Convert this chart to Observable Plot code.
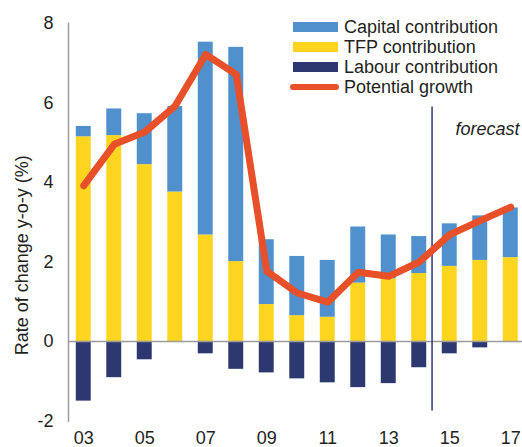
<!DOCTYPE html>
<html>
<head>
<meta charset="utf-8">
<script src="https://cdn.jsdelivr.net/npm/d3@7"></script>
<script src="https://cdn.jsdelivr.net/npm/@observablehq/plot@0.6"></script>
<style>
  html, body { margin: 0; padding: 0; background: #fff; }
  #wrap { position: relative; width: 522px; height: 447px; font-family: "Liberation Sans", Arial, sans-serif; }
  #legend { position: absolute; left: 290px; top: 17px; font-size: 18px; color: #231f20; line-height: 20px; }
  #legend .row { display: flex; align-items: center; height: 20px; }
  #legend .sw { width: 45px; height: 10px; margin-left: 3px; margin-right: 6px; }
  #legend .ln { width: 49px; height: 6px; border-radius: 3px; margin-right: 5px; }
</style>
</head>
<body>
<div id="wrap"><div id="legend"></div></div>
<script>
// Data
const years   = [2003, 2004, 2005, 2006, 2007, 2008, 2009, 2010, 2011, 2012, 2013, 2014, 2015, 2016, 2017];
const tfp     = [5.15, 5.18, 4.45, 3.76, 2.68, 2.01, 0.93, 0.65, 0.61, 1.47, 1.58, 1.71, 1.89, 2.04, 2.11];
const capital = [0.26, 0.67, 1.28, 2.15, 4.85, 5.39, 1.63, 1.49, 1.43, 1.41, 1.10, 0.93, 1.07, 1.12, 1.25];
const labour  = [-1.50, -0.91, -0.46, 0.00, -0.31, -0.70, -0.79, -0.94, -1.04, -1.16, -1.06, -0.66, -0.31, -0.16, 0.00];
const potential = [3.92, 4.96, 5.27, 5.93, 7.22, 6.72, 1.77, 1.22, 0.99, 1.74, 1.64, 2.00, 2.69, 3.04, 3.38];
const xTicks = [2003, 2005, 2007, 2009, 2011, 2013, 2015, 2017];
const yTicks = [-2, 0, 2, 4, 6, 8];
const forecastStart = [2014.42];
const forecastSpan = [-1.75, 5.9];

const seriesNames = ["TFP contribution", "Capital contribution", "Labour contribution"];
const legendNames = ["Capital contribution", "TFP contribution", "Labour contribution", "Potential growth"];
const colors = {
  "Capital contribution": "#4f90cd",
  "TFP contribution": "#fdd51f",
  "Labour contribution": "#2e3870",
  "Potential growth": "#e8502a"
};

const stacked = [];
years.forEach((yr, i) => {
  stacked.push({year: yr, series: "TFP contribution", value: tfp[i]});
  stacked.push({year: yr, series: "Capital contribution", value: capital[i]});
  stacked.push({year: yr, series: "Labour contribution", value: labour[i]});
});
const lineData = years.map((yr, i) => ({year: yr, value: potential[i]}));
const half = 0.245;

const fontFam = '"Liberation Sans", Arial, sans-serif';

const chart = Plot.plot({
  width: 522,
  height: 447,
  marginLeft: 68,
  marginRight: 0,
  marginTop: 23,
  marginBottom: 26.5,
  style: {fontFamily: fontFam, fontSize: "18px", color: "#231f20", background: "transparent"},
  x: {type: "linear", domain: [2002.5, 2017.5], range: [68, 525.5]},
  y: {domain: [-2, 8]},
  color: {domain: Object.keys(colors), range: Object.values(colors)},
  marks: [
    Plot.rectY(stacked, Plot.stackY({
      x1: d => d.year - half,
      x2: d => d.year + half,
      y: "value",
      fill: "series",
      order: seriesNames
    })),
    Plot.ruleY([0], {stroke: "#9a9a9a", strokeWidth: 1.5}),
    Plot.frame({anchor: "left", stroke: "#9a9a9a", strokeWidth: 1.5}),
    Plot.ruleX(forecastStart, {y1: forecastSpan[0], y2: forecastSpan[1], stroke: "#2e3870", strokeWidth: 1.5}),
    Plot.line(lineData, {x: "year", y: "value", stroke: colors["Potential growth"], strokeWidth: 7, strokeLinecap: "round", strokeLinejoin: "round"}),
    Plot.text(["forecast"], {frameAnchor: "top-right", dx: -3, dy: 99, fontStyle: "italic", fontSize: 18, textAnchor: "end", fill: "#231f20"}),
    Plot.axisX({ticks: xTicks, tickFormat: d => String(d).slice(2), tickSize: 0, tickPadding: 10, label: null, fontSize: 18}),
    Plot.axisY({ticks: yTicks, tickFormat: d => String(d), tickSize: 0, tickPadding: 15, label: null, fontSize: 18}),
    Plot.text(["Rate of change y-o-y (%)"], {frameAnchor: "left", rotate: -90, dx: -46.5, dy: 33, textAnchor: "middle", lineAnchor: "middle", fontSize: 18, fill: "#231f20"})
  ]
});
document.getElementById("wrap").prepend(chart);

const legend = document.getElementById("legend");
legendNames.forEach(name => {
  const row = document.createElement("div");
  row.className = "row";
  const sw = document.createElement("div");
  sw.className = name === "Potential growth" ? "ln" : "sw";
  sw.style.background = colors[name];
  const lab = document.createElement("span");
  lab.textContent = name;
  row.appendChild(sw);
  row.appendChild(lab);
  legend.appendChild(row);
});
</script>
</body>
</html>
